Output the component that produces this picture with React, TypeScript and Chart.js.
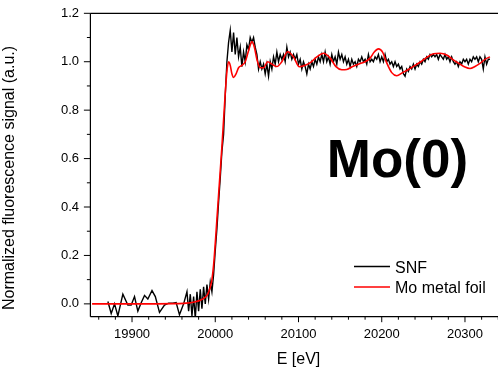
import React, { useEffect, useRef } from "react";
import { Chart, registerables } from "chart.js";

Chart.register(...registerables);

const FONT = '"Liberation Sans", Arial, Helvetica, sans-serif';

const xTickValues = [19900, 20000, 20100, 20200, 20300];
const xMinorValues = [19860, 19880, 19920, 19940, 19960, 19980, 20020, 20040, 20060, 20080, 20120, 20140, 20160, 20180, 20220, 20240, 20260, 20280, 20320, 20340];
const yTickValues = [0, 0.2, 0.4, 0.6, 0.8, 1.0, 1.2];
const yMinorValues = [0.1, 0.3, 0.5, 0.7, 0.9, 1.1];

const xTitle = "E [eV]";
const yTitle = "Normalized fluorescence signal (a.u.)";
const annotation = "Mo(0)";
const seriesNames = ["SNF", "Mo metal foil"];
const seriesColors = ["#000000", "#ff0000"];

// SNF measurement (black, noisy)
const snfEnergy = [
  19871, 19875, 19879, 19883, 19889, 19895, 19899, 19903, 19907, 19911,
  19915, 19919, 19924, 19928, 19933, 19939, 19944, 19949, 19953, 19957,
  19962,
  19966, 19968, 19970, 19972, 19974, 19976, 19978, 19980, 19982, 19984,
  19986, 19988, 19990, 19992, 19994, 19996, 19998, 20000, 20002, 20004,
  20006, 20008, 20010, 20012, 20014, 20016, 20018, 20020, 20022, 20024,
  20026, 20028, 20030, 20032, 20034, 20036, 20038, 20040, 20042, 20044,
  20046, 20048, 20050, 20052, 20054, 20056, 20058, 20060, 20062, 20064,
  20066, 20068, 20070, 20072, 20074, 20076, 20078, 20080, 20082, 20084,
  20086, 20088, 20090, 20092, 20094, 20096, 20098, 20100, 20102, 20104,
  20106, 20108, 20110, 20112, 20114, 20116, 20118, 20120, 20122, 20124,
  20126, 20128, 20130, 20132, 20134, 20136, 20138, 20140, 20142, 20144,
  20146, 20148, 20150, 20152, 20154, 20156, 20158, 20160, 20162, 20164,
  20166, 20168, 20170, 20172, 20174, 20176, 20178, 20180, 20182, 20184,
  20186, 20188, 20190, 20192, 20194, 20196, 20198, 20200, 20202, 20204,
  20206, 20208, 20210, 20212, 20214, 20216, 20218, 20220, 20222, 20224,
  20226, 20228, 20230, 20232, 20234, 20236, 20238, 20240, 20242, 20244,
  20246, 20248, 20250, 20252, 20254, 20256, 20258, 20260, 20262, 20264,
  20266, 20268, 20270, 20272, 20274, 20276, 20278, 20280, 20282, 20284,
  20286, 20288, 20290, 20292, 20294, 20296, 20298, 20300, 20302, 20304,
  20306, 20308, 20310, 20312, 20314, 20316, 20318, 20320, 20322, 20324,
  20326, 20328, 20330,
];
const snfSignal = [
  0.01, -0.04, 0.0, -0.05, 0.04, -0.005, -0.005, 0.03, -0.03, 0.005,
  0.035, 0.02, 0.055, 0.03, -0.035, -0.005, 0.003, 0.003, 0.005, -0.045,
  0.0,
  0.05, -0.03, 0.04, -0.05, 0.03, -0.06, 0.05, -0.03, 0.06, -0.02,
  0.07, 0.0, 0.08, 0.02, 0.09, 0.05, 0.12, 0.22, 0.31, 0.42,
  0.52, 0.63, 0.7, 0.86, 1.0, 1.08, 1.13, 1.04, 1.12, 1.03,
  1.1, 1.02, 1.06, 0.98, 1.04, 1.0, 1.07, 1.05, 1.1, 1.08,
  1.1, 1.06, 1.03, 0.97, 1.0, 0.97, 0.99, 0.95, 0.99, 0.94,
  1.0, 0.97, 1.02, 0.99, 1.04, 1.0, 1.03, 1.01, 1.03, 1.0,
  1.06, 1.02, 1.04, 1.01, 1.03, 1.01, 1.03, 0.99, 1.01, 0.97,
  1.0, 0.98, 0.95, 0.99, 0.97, 1.0, 0.98, 1.01, 0.99, 1.02,
  1.0, 1.03, 1.0, 1.04, 1.0, 1.02, 0.99, 1.03, 1.0, 1.02,
  0.99, 1.04, 1.01, 1.03, 1.0, 1.02, 0.99, 1.01, 0.98, 1.01,
  0.99, 1.0, 0.98, 1.01, 1.0, 1.02, 1.0, 1.01, 0.99, 1.03,
  1.0, 1.01, 1.0, 1.02, 1.01, 1.03, 1.0, 1.02, 1.0, 1.03,
  1.0, 1.01, 0.99, 1.0, 0.98, 1.0, 0.98, 0.99, 0.97, 0.98,
  0.95, 0.94, 0.97, 0.96, 0.98, 0.97, 0.99, 0.97, 0.99, 0.98,
  1.0, 0.99, 1.01, 1.0, 1.02, 1.01, 1.03, 1.02, 1.03, 1.02,
  1.03, 1.01, 1.03, 1.02, 1.01, 1.03, 1.01, 1.02, 1.0, 1.02,
  1.0, 0.99, 1.0, 0.98, 1.0, 0.99, 1.01, 1.0, 1.01, 0.99,
  1.01, 1.0, 1.02, 1.01, 1.02, 1.0, 1.02, 1.01, 0.97, 1.02,
  0.99, 1.01, 1.01,
];

// Mo metal foil reference (red, smooth)
const foilEnergy = [
  19852, 19900, 19950, 19965, 19975, 19982, 19987, 19991, 19994, 19996,
  19998, 20000, 20002, 20004, 20006, 20008, 20010, 20012, 20014, 20016,
  20018, 20020, 20022, 20025, 20028, 20032, 20036, 20040, 20044, 20047,
  20050, 20054, 20058, 20063, 20068, 20074, 20080, 20087, 20094, 20101,
  20108, 20115, 20122, 20130, 20138, 20145, 20152, 20158, 20165, 20172,
  20180, 20186, 20191, 20196, 20201, 20206, 20212, 20218, 20225, 20232,
  20240, 20247, 20254, 20262, 20270, 20278, 20286, 20294, 20300, 20306,
  20312, 20318, 20324, 20330,
];
const foilSignal = [
  0, 0, 0.001, 0.003, 0.008, 0.015, 0.025, 0.04, 0.07, 0.1,
  0.16, 0.25, 0.35, 0.45, 0.55, 0.65, 0.76, 0.87, 0.96, 1.0,
  0.985, 0.95, 0.935, 0.95, 0.975, 0.985, 1.0, 1.045, 1.083, 1.06,
  1.01, 0.975, 0.975, 1.0, 0.99, 0.98, 1.0, 1.041, 1.02, 0.979,
  0.985, 0.998, 1.02, 1.035, 1.015, 0.98, 0.967, 0.968, 0.98, 0.99,
  1.0, 1.015, 1.04, 1.053, 1.04, 0.995, 0.955, 0.942, 0.955, 0.968,
  0.985, 1.0, 1.018, 1.033, 1.035, 1.028, 1.008, 0.99, 0.978, 0.972,
  0.98, 0.993, 1.01, 1.02,
];

const toPoints = (xs: number[], ys: number[]) => {
  const n = Math.min(xs.length, ys.length);
  const out: { x: number; y: number }[] = [];
  for (let i = 0; i < n; i++) out.push({ x: xs[i], y: ys[i] });
  return out;
};

export default function App() {
  const ref = useRef<HTMLCanvasElement>(null);

  useEffect(() => {
    const canvas = ref.current;
    if (!canvas) return;

    const framePlugin = {
      id: "framePlugin",
      afterDatasetsDraw(chart: any) {
        const ctx = chart.ctx as CanvasRenderingContext2D;
        const { left, right, top, bottom } = chart.chartArea;
        const xs = chart.scales.x;
        const ys = chart.scales.y;
        ctx.save();
        ctx.strokeStyle = "#000";
        ctx.lineWidth = 1.2;
        ctx.beginPath();
        ctx.moveTo(left, top);
        ctx.lineTo(left, bottom);
        ctx.moveTo(left, bottom);
        ctx.lineTo(right, bottom);
        ctx.moveTo(left, top);
        ctx.lineTo(right, top);
        ctx.stroke();

        ctx.lineWidth = 1;
        ctx.beginPath();
        for (const v of yTickValues) {
          const y = ys.getPixelForValue(v);
          ctx.moveTo(left - 6.5, y);
          ctx.lineTo(left, y);
        }
        for (const v of yMinorValues) {
          const y = ys.getPixelForValue(v);
          ctx.moveTo(left - 3.5, y);
          ctx.lineTo(left, y);
        }
        for (const v of xTickValues) {
          const x = xs.getPixelForValue(v);
          ctx.moveTo(x, bottom);
          ctx.lineTo(x, bottom + 5.5);
        }
        for (const v of xMinorValues) {
          const x = xs.getPixelForValue(v);
          ctx.moveTo(x, bottom);
          ctx.lineTo(x, bottom + 3);
        }
        ctx.stroke();

        ctx.fillStyle = "#000";
        // axis titles
        ctx.font = `16px ${FONT}`;
        ctx.textAlign = "center";
        ctx.textBaseline = "alphabetic";
        ctx.fillText(xTitle, (left + right) / 2, 364);
        ctx.save();
        ctx.translate(14, 178);
        ctx.rotate(-Math.PI / 2);
        ctx.fillText(yTitle, 0, 0);
        ctx.restore();

        // annotation
        ctx.font = `bold 53px ${FONT}`;
        ctx.textAlign = "center";
        ctx.fillText(annotation, 397.5, 177);

        // legend
        const legendY = [266.5, 287];
        ctx.font = `16px ${FONT}`;
        ctx.textAlign = "left";
        ctx.lineWidth = 1.5;
        seriesNames.forEach((name, i) => {
          ctx.strokeStyle = seriesColors[i];
          ctx.beginPath();
          ctx.moveTo(354, legendY[i]);
          ctx.lineTo(390, legendY[i]);
          ctx.stroke();
          ctx.fillText(name, 395, legendY[i] + 6);
        });
        ctx.restore();
      },
    };

    const chart = new Chart(canvas, {
      type: "line",
      data: {
        datasets: [
          {
            label: seriesNames[0],
            data: toPoints(snfEnergy, snfSignal),
            borderColor: seriesColors[0],
            borderWidth: 1.4,
            pointRadius: 0,
            tension: 0,
            fill: false,
            order: 1,
          },
          {
            label: seriesNames[1],
            data: toPoints(foilEnergy, foilSignal),
            borderColor: seriesColors[1],
            borderWidth: 1.6,
            pointRadius: 0,
            cubicInterpolationMode: "monotone",
            fill: false,
            order: 0,
          },
        ],
      },
      options: {
        responsive: false,
        devicePixelRatio: 1,
        animation: false,
        layout: { padding: { left: 0, right: 13.4, top: 13.3, bottom: 0 } },
        plugins: { legend: { display: false }, tooltip: { enabled: false } },
        scales: {
          x: {
            type: "linear",
            min: 19850,
            max: 20350,
            afterBuildTicks: (s: any) => {
              s.ticks = xTickValues.map((v) => ({ value: v }));
            },
            afterFit: (s: any) => {
              s.height = 51.3;
              s.paddingLeft = 0;
              s.paddingRight = 0;
            },
            grid: { display: false, drawTicks: false },
            border: { display: false },
            ticks: {
              font: { family: FONT, size: 13 },
              color: "#000",
              padding: 10,
              maxRotation: 0,
              autoSkip: false,
              callback: (v: any) => String(v),
            },
          },
          y: {
            type: "linear",
            min: -0.053,
            max: 1.2,
            afterBuildTicks: (s: any) => {
              s.ticks = yTickValues.map((v) => ({ value: v }));
            },
            afterFit: (s: any) => {
              s.width = 90.4;
              s.paddingTop = 0;
              s.paddingBottom = 0;
            },
            grid: { display: false, drawTicks: false },
            border: { display: false },
            ticks: {
              font: { family: FONT, size: 13 },
              color: "#000",
              padding: 11.4,
              autoSkip: false,
              callback: (v: any) => Number(v).toFixed(1),
            },
          },
        },
      },
      plugins: [framePlugin],
    } as any);

    return () => chart.destroy();
  }, []);

  return (
    <div
      style={{
        position: "fixed",
        left: 0,
        top: 0,
        width: 498,
        height: 368,
        overflow: "hidden",
        background: "#fff",
      }}
    >
      <canvas ref={ref} width={520} height={368} style={{ display: "block", width: 520, height: 368 }} />
    </div>
  );
}
